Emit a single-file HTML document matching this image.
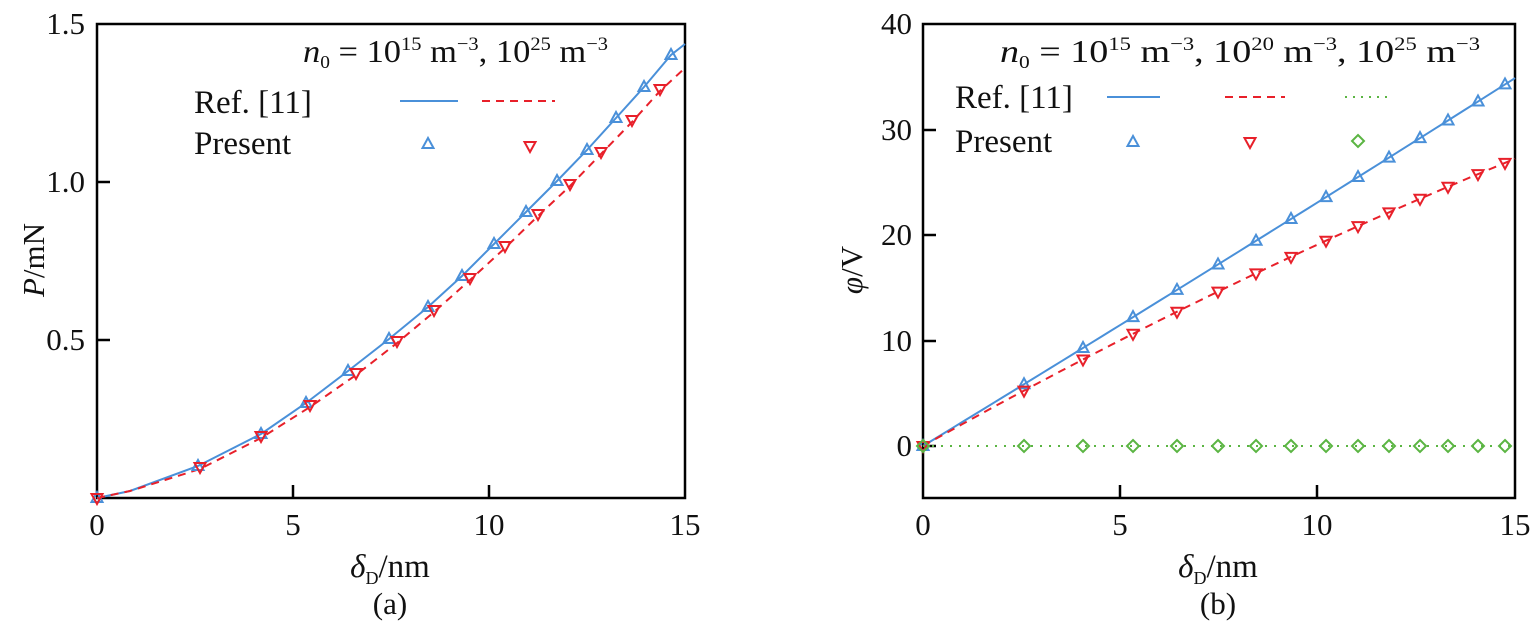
<!DOCTYPE html>
<html><head><meta charset="utf-8"><style>
html,body{margin:0;padding:0;background:#fff;}
svg{display:block;font-family:"Liberation Serif",serif;}
</style></head><body>
<svg id="s" width="1534" height="630" xmlns="http://www.w3.org/2000/svg">
<g font-size="31" fill="#111">
<!-- left axes -->
<rect x="97" y="24" width="588" height="474" fill="none" stroke="#000" stroke-width="2.5"/>
<line x1="97" y1="182" x2="110" y2="182" stroke="#000" stroke-width="2.5"/>
<line x1="97" y1="340" x2="110" y2="340" stroke="#000" stroke-width="2.5"/>
<line x1="293" y1="498" x2="293" y2="485" stroke="#000" stroke-width="2.5"/>
<line x1="489" y1="498" x2="489" y2="485" stroke="#000" stroke-width="2.5"/>
<text x="85" y="34" text-anchor="end">1.5</text>
<text x="85" y="192" text-anchor="end">1.0</text>
<text x="85" y="350" text-anchor="end">0.5</text>
<text x="97" y="535" text-anchor="middle">0</text>
<text x="293" y="535" text-anchor="middle">5</text>
<text x="489" y="535" text-anchor="middle">10</text>
<text x="685" y="535" text-anchor="middle">15</text>
<text x="390" y="577" font-size="33" text-anchor="middle"><tspan font-style="italic">δ</tspan><tspan font-size="18" dy="7">D</tspan><tspan dy="-7">/nm</tspan></text>
<text x="390" y="614" text-anchor="middle">(a)</text>
<text transform="translate(44,260) rotate(-90)" text-anchor="middle"><tspan font-style="italic">P</tspan>/mN</text>
<text x="303" y="62" font-size="32" textLength="305" lengthAdjust="spacingAndGlyphs"><tspan font-style="italic">n</tspan><tspan font-size="18" dy="6">0</tspan><tspan dy="-6"> = 10</tspan><tspan font-size="19" dy="-12">15</tspan><tspan dy="12"> m</tspan><tspan font-size="19" dy="-12">−3</tspan><tspan dy="12">, 10</tspan><tspan font-size="19" dy="-12">25</tspan><tspan dy="12"> m</tspan><tspan font-size="19" dy="-12">−3</tspan></text>
<text x="194" y="113" font-size="33">Ref. [11]</text>
<text x="194" y="154" font-size="33">Present</text>
<line x1="400" y1="101" x2="458" y2="101" stroke="#4a90d9" stroke-width="2"/>
<line x1="482" y1="101" x2="555" y2="101" stroke="#e8202a" stroke-width="2" stroke-dasharray="8,6"/>
<!-- right axes -->
<rect x="923" y="24" width="592" height="474" fill="none" stroke="#000" stroke-width="2.5"/>
<line x1="923" y1="130" x2="936" y2="130" stroke="#000" stroke-width="2.5"/>
<line x1="923" y1="235" x2="936" y2="235" stroke="#000" stroke-width="2.5"/>
<line x1="923" y1="341" x2="936" y2="341" stroke="#000" stroke-width="2.5"/>
<line x1="923" y1="446" x2="936" y2="446" stroke="#000" stroke-width="2.5"/>
<line x1="1120" y1="498" x2="1120" y2="485" stroke="#000" stroke-width="2.5"/>
<line x1="1317" y1="498" x2="1317" y2="485" stroke="#000" stroke-width="2.5"/>
<text x="912" y="34" text-anchor="end">40</text>
<text x="912" y="140" text-anchor="end">30</text>
<text x="912" y="245" text-anchor="end">20</text>
<text x="912" y="351" text-anchor="end">10</text>
<text x="912" y="456" text-anchor="end">0</text>
<text x="923" y="535" text-anchor="middle">0</text>
<text x="1120" y="535" text-anchor="middle">5</text>
<text x="1317" y="535" text-anchor="middle">10</text>
<text x="1515" y="535" text-anchor="middle">15</text>
<text x="1218" y="577" font-size="33" text-anchor="middle"><tspan font-style="italic">δ</tspan><tspan font-size="18" dy="7">D</tspan><tspan dy="-7">/nm</tspan></text>
<text x="1218" y="614" text-anchor="middle">(b)</text>
<text transform="translate(862,270) rotate(-90)" text-anchor="middle"><tspan font-style="italic">φ</tspan>/V</text>
<text x="1000" y="62" font-size="32" textLength="480" lengthAdjust="spacingAndGlyphs"><tspan font-style="italic">n</tspan><tspan font-size="18" dy="6">0</tspan><tspan dy="-6"> = 10</tspan><tspan font-size="19" dy="-12">15</tspan><tspan dy="12"> m</tspan><tspan font-size="19" dy="-12">−3</tspan><tspan dy="12">, 10</tspan><tspan font-size="19" dy="-12">20</tspan><tspan dy="12"> m</tspan><tspan font-size="19" dy="-12">−3</tspan><tspan dy="12">, 10</tspan><tspan font-size="19" dy="-12">25</tspan><tspan dy="12"> m</tspan><tspan font-size="19" dy="-12">−3</tspan></text>
<text x="955" y="108" font-size="33">Ref. [11]</text>
<text x="955" y="152" font-size="33">Present</text>
<line x1="1107" y1="97" x2="1160" y2="97" stroke="#4a90d9" stroke-width="2"/>
<line x1="1225" y1="97" x2="1285" y2="97" stroke="#e8202a" stroke-width="2" stroke-dasharray="8,6"/>
<line x1="1345" y1="97" x2="1392" y2="97" stroke="#5bb543" stroke-width="2" stroke-dasharray="2,6"/>
</g>
<g id="d"></g>
</svg>
<script>
var NS="http://www.w3.org/2000/svg",g=document.getElementById("d");
function el(t,a){var e=document.createElementNS(NS,t);for(var k in a)e.setAttribute(k,a[k]);g.appendChild(e);return e;}
function up(x,y,c){el("polygon",{points:(x)+","+(y-6)+" "+(x-5.5)+","+(y+4)+" "+(x+5.5)+","+(y+4),fill:"none",stroke:c,"stroke-width":2});}
function dn(x,y,c){el("polygon",{points:(x)+","+(y+6)+" "+(x-5.5)+","+(y-4)+" "+(x+5.5)+","+(y-4),fill:"none",stroke:c,"stroke-width":2});}
function di(x,y,c){el("polygon",{points:x+","+(y-6)+" "+(x+6)+","+y+" "+x+","+(y+6)+" "+(x-6)+","+y,fill:"none",stroke:c,"stroke-width":2});}
var B="#4a90d9",R="#e8202a",G="#5bb543";
// left
var lb=[[97,498],[198,466],[261,434],[306,403],[348,371],[389,339],[428,307],[462,276],[494,244],[526,212],[557,181],[587,150],[616,118],[644,87],[671,55]];
var lr=[[97,498],[200,467],[261,436],[310,405],[356,373],[397,341],[434,310],[470,278],[505,246],[538,214],[570,184],[601,152],[632,120],[660,89]];
el("polyline",{points:"97,498 130,491 "+lb.slice(1).map(p=>p.join(",")).join(" ")+" 685,44",fill:"none",stroke:B,"stroke-width":2});
el("polyline",{points:"97,498 130,491 "+lr.slice(1).map(p=>[p[0],p[1]+2].join(",")).join(" ")+" 685,68",fill:"none",stroke:R,"stroke-width":2,"stroke-dasharray":"8,6"});
lb.forEach(p=>up(p[0],p[1],B));lr.forEach(p=>dn(p[0],p[1],R));
up(428,144,B);dn(530,146,R);
// right
var gx=[923,1024,1083,1133,1177,1218,1256,1291,1326,1358,1389,1420,1448,1478,1505];
function X(d){return 923+d*39.47;}function Y(v){return 446-v*10.55;}
function pb(d){return 2.28*d+0.003*d*d;}function pr(d){return 2.1*d-0.019*d*d;}
var bp=[],rp=[];for(var d=0;d<=15.01;d+=0.25){bp.push(X(d)+","+Y(pb(d)));rp.push(X(d)+","+Y(pr(d)));}
el("polyline",{points:bp.join(" "),fill:"none",stroke:B,"stroke-width":2});
el("polyline",{points:rp.join(" "),fill:"none",stroke:R,"stroke-width":2,"stroke-dasharray":"8,6"});
el("line",{x1:923,y1:446,x2:1515,y2:446,stroke:G,"stroke-width":2,"stroke-dasharray":"2,7"});
gx.forEach(x=>{var d=(x-923)/39.47;up(x,Y(pb(d)),B);});
gx.forEach(x=>{var d=(x-923)/39.47;dn(x,Y(pr(d)),R);});
gx.forEach(x=>di(x,446,G));
up(1133,142,B);dn(1250,142,R);di(1358,141,G);
</script>
</body></html>
